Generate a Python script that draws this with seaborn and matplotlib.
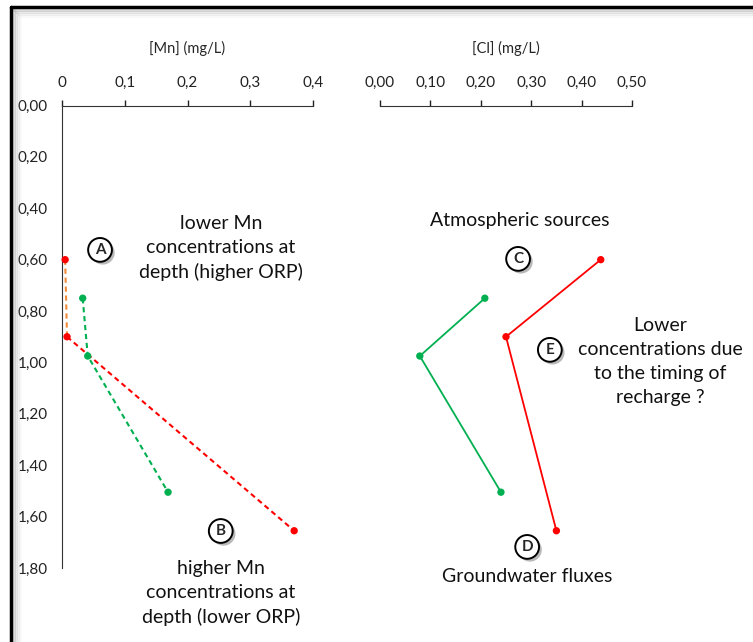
import matplotlib
matplotlib.use("Agg")
from matplotlib import pyplot as plt
from matplotlib import patheffects as pe
from matplotlib.lines import Line2D
import pandas as pd
import seaborn as sns

sns.set_style("white")
plt.rcParams["font.family"] = ["Lato", "DejaVu Sans"]

# depth (m) of the sampling points
depth_red = [0.60, 0.90, 1.655]
depth_green = [0.75, 0.975, 1.505]

# [Mn] (mg/L)
mn_red = [0.005, 0.008, 0.370]
mn_green = [0.033, 0.041, 0.169]

# [Cl] (mg/L)
cl_red = [0.438, 0.250, 0.350]
cl_green = [0.208, 0.079, 0.240]

mn_ticks = [0, 0.1, 0.2, 0.3, 0.4]
mn_labels = ["0", "0,1", "0,2", "0,3", "0,4"]
cl_ticks = [0, 0.1, 0.2, 0.3, 0.4, 0.5]
cl_labels = ["0,00", "0,10", "0,20", "0,30", "0,40", "0,50"]
depth_ticks = [0, 0.2, 0.4, 0.6, 0.8, 1.0, 1.2, 1.4, 1.6, 1.8]
depth_labels = ["0,00", "0,20", "0,40", "0,60", "0,80", "1,00", "1,20", "1,40", "1,60", "1,80"]

RED = "#FF0000"
GREEN = "#00B050"
ORANGE = "#F28C3A"

fig = plt.figure(figsize=(7.53, 6.42), dpi=100)
ax_mn = fig.add_axes([62 / 753, 1 - 568 / 642, 251 / 753, 462.5 / 642])
ax_cl = fig.add_axes([380 / 753, 1 - 568 / 642, 252 / 753, 462.5 / 642])

shadow = [pe.SimplePatchShadow(offset=(2, -2), shadow_rgbFace="0.55", alpha=0.6), pe.Normal()]
circle_box = dict(boxstyle="circle,pad=0.32", fc="white", ec="black", lw=1.4)
dash = (0, (2.5, 1.8))


def circle_label(ax, x, y, letter):
    t = ax.text(x, y, letter, ha="center", va="center", fontsize=11, fontweight="bold",
                bbox=circle_box, zorder=5)
    t.get_bbox_patch().set_path_effects(shadow)


def style_axis(ax, xlim, ticks, labels, xlabel):
    ax.set_xlim(*xlim)
    ax.set_ylim(1.8, 0)
    ax.xaxis.set_ticks_position("top")
    ax.xaxis.set_label_position("top")
    ax.set_xticks(ticks)
    ax.set_xticklabels(labels, fontsize=11)
    ax.tick_params(axis="x", direction="out", length=4, width=1, pad=7, colors="#222222")
    ax.set_xlabel(xlabel, fontsize=10.5, labelpad=17)
    for side in ["bottom", "right"]:
        ax.spines[side].set_visible(False)
    ax.spines["top"].set_color("#333333")
    ax.spines["left"].set_color("#333333")
    ax.patch.set_alpha(0)


# ---- Mn panel ----
seg1 = pd.DataFrame({"x": mn_red[:2], "y": depth_red[:2]})
seg2 = pd.DataFrame({"x": mn_red[1:], "y": depth_red[1:]})
green_mn = pd.DataFrame({"x": mn_green, "y": depth_green})
sns.lineplot(data=seg1, x="x", y="y", sort=False, estimator=None, color=ORANGE, lw=1.5, ax=ax_mn)
sns.lineplot(data=seg2, x="x", y="y", sort=False, estimator=None, color=RED, lw=1.5, ax=ax_mn)
sns.lineplot(data=green_mn, x="x", y="y", sort=False, estimator=None, color=GREEN, lw=1.5, ax=ax_mn)
for ln in ax_mn.lines:
    ln.set_linestyle(dash)
    ln.set_clip_on(False)
sns.scatterplot(x=mn_red, y=depth_red, color=RED, s=28, edgecolor="none", ax=ax_mn, clip_on=False, zorder=4)
sns.scatterplot(x=mn_green, y=depth_green, color=GREEN, s=28, edgecolor="none", ax=ax_mn, clip_on=False, zorder=4)

style_axis(ax_mn, (0, 0.4), mn_ticks, mn_labels, "[Mn] (mg/L)")
ax_mn.set_yticks(depth_ticks)
ax_mn.set_yticklabels(depth_labels, fontsize=11)
ax_mn.tick_params(axis="y", length=0, pad=10, colors="#222222")
ax_mn.set_ylabel("")

ax_mn.text(0.253, 0.555, "lower Mn\nconcentrations at\ndepth (higher ORP)", ha="center", va="center",
           fontsize=14, linespacing=1.5, color="#111111")
circle_label(ax_mn, 0.0606, 0.562, "A")
circle_label(ax_mn, 0.253, 1.656, "B")
ax_mn.text(0.253, 1.897, "higher Mn\nconcentrations at\ndepth (lower ORP)", ha="center", va="center",
           fontsize=14, linespacing=1.5, color="#111111")

# ---- Cl panel ----
red_cl = pd.DataFrame({"x": cl_red, "y": depth_red})
green_cl = pd.DataFrame({"x": cl_green, "y": depth_green})
sns.lineplot(data=red_cl, x="x", y="y", sort=False, estimator=None, color=RED, lw=1.3, ax=ax_cl)
sns.lineplot(data=green_cl, x="x", y="y", sort=False, estimator=None, color=GREEN, lw=1.3, ax=ax_cl)
sns.scatterplot(x=cl_red, y=depth_red, color=RED, s=28, edgecolor="none", ax=ax_cl, clip_on=False, zorder=4)
sns.scatterplot(x=cl_green, y=depth_green, color=GREEN, s=28, edgecolor="none", ax=ax_cl, clip_on=False, zorder=4)

style_axis(ax_cl, (0, 0.5), cl_ticks, cl_labels, "[Cl] (mg/L)")
ax_cl.spines["left"].set_visible(False)
ax_cl.set_yticks([])
ax_cl.set_ylabel("")

ax_cl.text(0.278, 0.446, "Atmospheric sources", ha="center", va="center", fontsize=14, color="#111111")
circle_label(ax_cl, 0.274, 0.597, "C")
circle_label(ax_cl, 0.337, 0.951, "E")
ax_cl.text(0.556, 0.995, "Lower\nconcentrations due\nto the timing of\nrecharge ?", ha="center", va="center",
           fontsize=14, linespacing=1.5, color="#111111")
circle_label(ax_cl, 0.292, 1.718, "D")
ax_cl.text(0.292, 1.835, "Groundwater fluxes", ha="center", va="center", fontsize=14, color="#111111")

# frame around the picture (top and left edges visible)
for i, a in enumerate([0.35, 0.22, 0.12, 0.06]):
    off = 3 + 2 * i
    fig.add_artist(Line2D([(11 + off) / 753, 1], [1 - (7 + off) / 642] * 2, transform=fig.transFigure,
                          color="0.6", alpha=a, lw=2))
    fig.add_artist(Line2D([(11 + off) / 753] * 2, [0, 1 - (7 + off) / 642], transform=fig.transFigure,
                          color="0.6", alpha=a, lw=2))
fig.add_artist(Line2D([11 / 753, 1], [1 - 7 / 642] * 2, transform=fig.transFigure, color="black", lw=2.5))
fig.add_artist(Line2D([11 / 753] * 2, [0, 1 - 7 / 642], transform=fig.transFigure, color="black", lw=2.5))

fig.savefig("out.png", dpi=100)
plt.close(fig)
